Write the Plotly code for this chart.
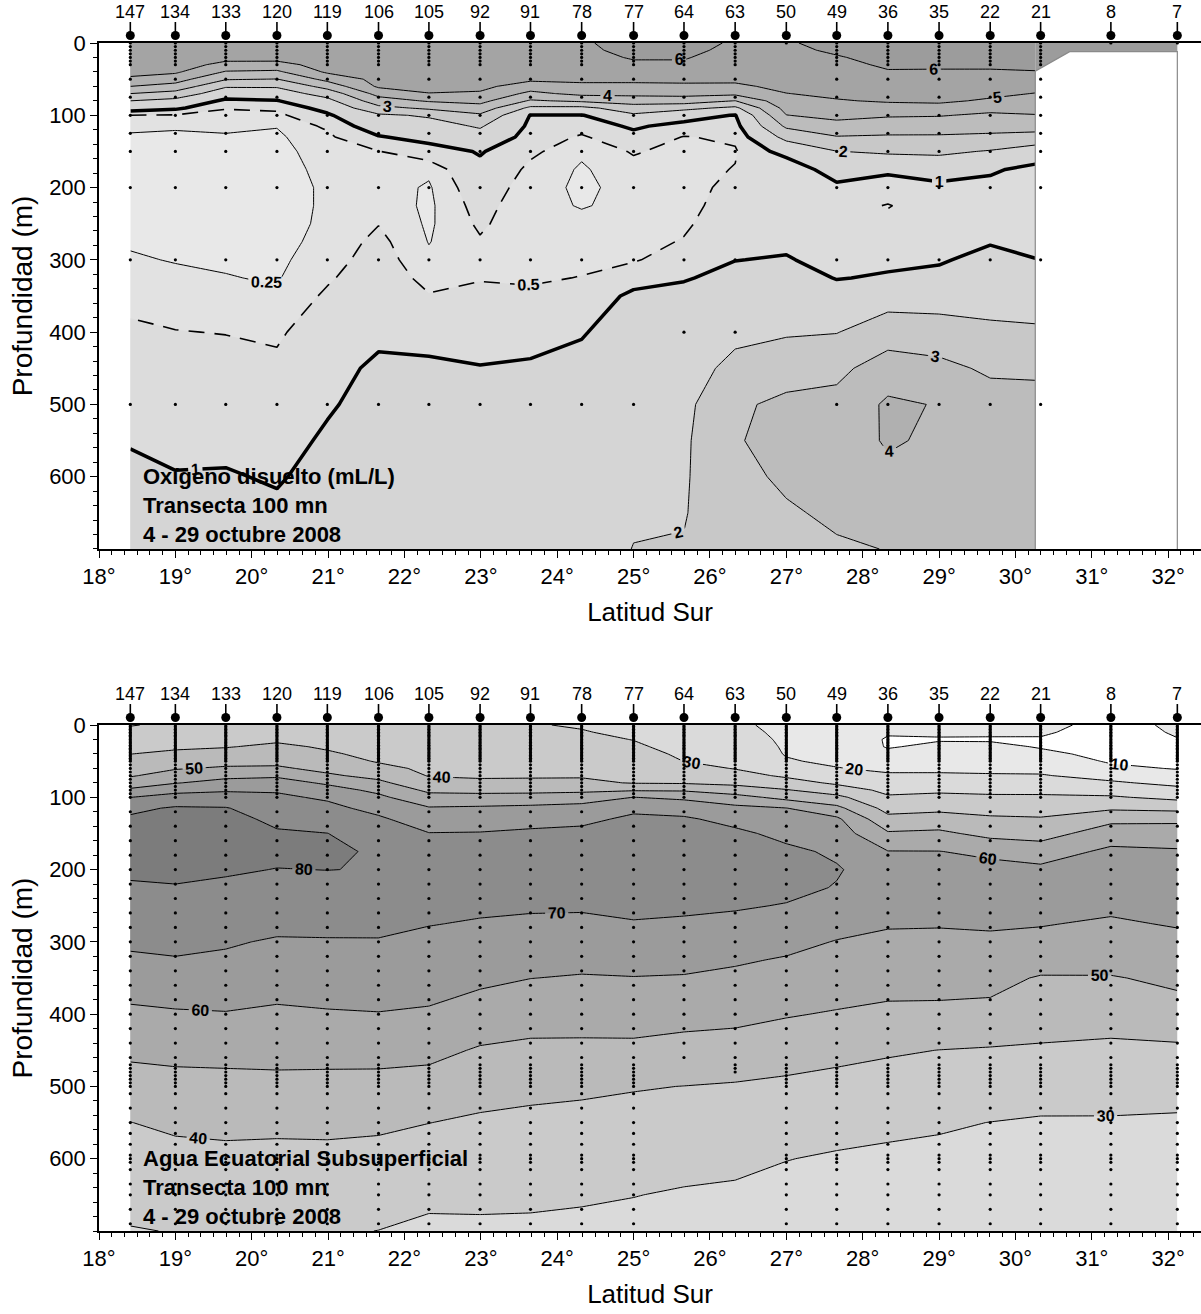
import numpy as np
import plotly.graph_objects as go

# ---------------- data ----------------
station_ids = ["147", "134", "133", "120", "119", "106", "105", "92", "91", "78", "77",
               "64", "63", "50", "49", "36", "35", "22", "21", "8", "7"]
station_lat = [18.41, 19.00, 19.66, 20.33, 20.99, 21.66, 22.32, 22.99, 23.65, 24.32, 25.00,
               25.66, 26.33, 27.00, 27.66, 28.33, 29.00, 29.67, 30.33, 31.25, 32.12]

depth_grid = [0, 10, 20, 30, 40, 50, 60, 70, 80, 90, 100, 115, 130, 150, 175, 200, 225, 250,
              275, 300, 325, 350, 400, 450, 500, 550, 600, 650, 700]

# ---- dissolved oxygen (mL/L), one profile per station, on depth_grid ----
oxy_grid_lat = [18.41, 19.00, 19.66, 20.33, 20.99, 21.66, 22.32, 22.99, 23.65, 24.32,
                25.00, 25.66, 26.33, 27.00, 27.66, 28.33, 29.00, 29.67, 30.26]
o2_147 = [5.9, 5.8, 5.7, 5.6, 5.4, 4.77, 4.0, 3.0, 2.0, 1.33, 0.49, 0.3, 0.22, 0.2, 0.19, 0.18, 0.19, 0.2, 0.23, 0.27, 0.34, 0.42, 0.55, 0.7, 0.82, 0.97, 1.1, 1.2, 1.3]
o2_134 = [5.9, 5.8, 5.7, 5.5, 5.15, 4.43, 3.64, 2.63, 1.71, 1.12, 0.46, 0.27, 0.22, 0.2, 0.18, 0.18, 0.18, 0.19, 0.21, 0.24, 0.29, 0.36, 0.51, 0.62, 0.74, 0.86, 1.03, 1.12, 1.2]
o2_133 = [5.9, 5.8, 5.35, 4.69, 3.92, 3.08, 2.1, 1.4, 0.86, 0.52, 0.4, 0.29, 0.23, 0.2, 0.18, 0.17, 0.17, 0.18, 0.2, 0.22, 0.26, 0.32, 0.49, 0.62, 0.74, 0.88, 1.04, 1.13, 1.2]
o2_120 = [5.9, 5.8, 5.4, 4.62, 3.83, 2.98, 2.1, 1.5, 0.96, 0.58, 0.4, 0.26, 0.21, 0.19, 0.18, 0.17, 0.17, 0.17, 0.18, 0.2, 0.23, 0.28, 0.45, 0.57, 0.68, 0.8, 0.95, 1.1, 1.2]
o2_119 = [5.95, 5.9, 5.7, 5.45, 5.15, 4.3, 3.36, 2.4, 1.71, 1.24, 0.89, 0.56, 0.42, 0.34, 0.3, 0.28, 0.28, 0.29, 0.32, 0.38, 0.46, 0.55, 0.7, 0.82, 0.94, 1.08, 1.18, 1.25, 1.3]
o2_106 = [5.95, 5.9, 5.8, 5.7, 5.5, 5.3, 5.15, 4.33, 3.57, 2.71, 1.85, 1.4, 0.95, 0.49, 0.4, 0.36, 0.4, 0.49, 0.58, 0.64, 0.7, 0.76, 0.88, 1.1, 1.2, 1.27, 1.32, 1.38, 1.4]
o2_105 = [5.95, 5.9, 5.8, 5.7, 5.55, 5.4, 5.2, 4.98, 4.1, 3.18, 2.11, 1.63, 1.24, 0.71, 0.3, 0.22, 0.2, 0.21, 0.24, 0.3, 0.4, 0.52, 0.8, 1.1, 1.25, 1.32, 1.38, 1.42, 1.45]
o2_92 = [5.95, 5.9, 5.8, 5.7, 5.55, 5.4, 5.25, 4.88, 4.3, 3.58, 2.85, 2.1, 1.63, 1.05, 0.85, 0.72, 0.62, 0.55, 0.47, 0.43, 0.48, 0.58, 0.8, 1.02, 1.15, 1.25, 1.32, 1.38, 1.42]
o2_91 = [5.95, 5.9, 5.8, 5.6, 5.4, 5.2, 4.5, 3.75, 2.89, 1.78, 0.97, 0.85, 0.73, 0.57, 0.42, 0.34, 0.3, 0.3, 0.33, 0.38, 0.46, 0.56, 0.78, 1.08, 1.2, 1.28, 1.35, 1.4, 1.45]
o2_78 = [5.9, 5.85, 5.8, 5.6, 5.4, 5.2, 4.79, 4.26, 3.17, 1.73, 0.96, 0.67, 0.45, 0.29, 0.22, 0.21, 0.24, 0.29, 0.35, 0.43, 0.51, 0.65, 0.95, 1.2, 1.32, 1.4, 1.46, 1.52, 1.58]
o2_77 = [6.3, 6.2, 6.05, 5.9, 5.6, 5.2, 4.79, 4.26, 3.44, 2.54, 1.85, 1.1, 0.81, 0.53, 0.4, 0.32, 0.29, 0.3, 0.36, 0.46, 0.78, 1.12, 1.35, 1.5, 1.6, 1.7, 1.8, 1.9, 2.02]
o2_64 = [6.3, 6.2, 6.05, 5.9, 5.6, 5.25, 4.8, 4.3, 3.5, 2.25, 1.33, 0.77, 0.48, 0.4, 0.36, 0.35, 0.37, 0.43, 0.53, 0.72, 0.96, 1.15, 1.4, 1.6, 1.75, 1.85, 1.9, 1.95, 2.05]
o2_63 = [5.9, 5.8, 5.7, 5.6, 5.4, 5.2, 4.82, 4.24, 2.98, 1.78, 0.96, 0.76, 0.57, 0.46, 0.52, 0.62, 0.7, 0.8, 0.9, 0.99, 1.15, 1.3, 1.78, 2.25, 2.85, 2.92, 2.75, 2.6, 2.5]
o2_50 = [5.9, 5.85, 5.8, 5.7, 5.6, 5.45, 5.25, 4.98, 4.67, 4.33, 3.98, 3.17, 2.29, 1.25, 0.53, 0.56, 0.65, 0.77, 0.9, 1.04, 1.2, 1.4, 1.9, 2.6, 3.2, 3.35, 3.15, 2.9, 2.7]
o2_49 = [6.3, 6.1, 5.95, 5.85, 5.7, 5.55, 5.4, 5.2, 4.93, 4.6, 4.27, 3.67, 2.95, 1.98, 1.37, 0.85, 0.65, 0.62, 0.7, 0.82, 0.98, 1.2, 1.97, 2.75, 3.3, 3.5, 3.4, 3.15, 2.9]
o2_36 = [6.4, 6.3, 6.2, 6.08, 5.96, 5.75, 5.55, 5.3, 5.1, 4.63, 4.1, 3.48, 2.89, 2.15, 1.12, 0.7, 0.48, 0.6, 0.75, 0.9, 1.05, 1.6, 2.5, 3.5, 4.15, 4.1, 3.8, 3.4, 3.02]
o2_35 = [6.4, 6.3, 6.2, 6.08, 5.95, 5.75, 5.55, 5.35, 5.15, 4.69, 4.06, 3.44, 2.89, 2.19, 1.32, 0.85, 0.7, 0.72, 0.8, 0.94, 1.15, 1.55, 2.45, 3.25, 3.95, 3.85, 3.65, 3.5, 3.35]
o2_22 = [6.4, 6.3, 6.2, 6.08, 5.95, 5.7, 5.45, 5.2, 4.88, 4.29, 3.84, 3.35, 2.82, 1.93, 1.1, 0.8, 0.72, 0.8, 0.96, 1.18, 1.35, 1.6, 2.2, 2.85, 3.4, 3.6, 3.6, 3.5, 3.4]
o2_21 = [6.4, 6.3, 6.2, 6.1, 5.98, 5.63, 5.3, 4.97, 4.63, 4.3, 3.96, 3.38, 2.67, 1.47, 0.8, 0.62, 0.52, 0.6, 0.8, 1.02, 1.25, 1.5, 2.15, 2.8, 3.4, 3.6, 3.6, 3.5, 3.4]
oxygen_columns = [o2_147, o2_134, o2_133, o2_120, o2_119, o2_106, o2_105, o2_92, o2_91, o2_78,
                  o2_77, o2_64, o2_63, o2_50, o2_49, o2_36, o2_35, o2_22, o2_21]

oxy_levels = [0.25, 0.5, 1, 2, 3, 4, 5, 6]
oxy_colors = ["#e8e8e8", "#e2e2e2", "#dcdcdc", "#d5d5d5", "#c8c8c8", "#bcbcbc", "#b0b0b0", "#a4a4a4", "#9c9c9c"]

# extent of gridded oxygen field beyond the last full profile (only surface data)
blank_lat = [30.26, 30.71, 32.12]
blank_top = [39, 12, 12]

# oxygen bottle depths
oxy_sample_std = [0, 5, 10, 15, 20, 25, 30, 50, 75, 100, 125, 150, 200, 300, 500]
oxy_sample_400 = [0, 5, 10, 15, 20, 25, 30, 50, 75, 100, 125, 150, 200, 300, 400]
oxy_400_stations = ["64", "63"]
oxy_surface_only = ["50", "8", "7"]

# ---- Equatorial Subsurface Water (%), one profile per station, on depth_grid ----
aes_147 = [29.6, 32.1, 34.7, 37.4, 39.9, 43.0, 46.1, 49.1, 54.7, 61.7, 69.9, 77.9, 81.4, 82.8, 83.0, 81.5, 79.0, 76.6, 74.0, 71.5, 68.6, 65.0, 58.1, 51.9, 46.0, 39.9, 36.5, 33.1, 29.5]
aes_134 = [31.5, 33.5, 35.5, 38.5, 41.9, 45.6, 49.3, 54.2, 59.5, 66.9, 73.8, 81.0, 83.0, 84.0, 84.0, 82.0, 79.5, 77.0, 74.5, 72.0, 69.5, 66.0, 59.0, 52.5, 47.0, 41.5, 37.5, 33.5, 30.3]
aes_133 = [32.0, 34.0, 36.5, 39.5, 43.3, 47.0, 51.2, 57.5, 63.3, 68.9, 74.0, 80.5, 83.0, 84.5, 84.5, 81.0, 78.5, 76.0, 73.5, 71.0, 68.5, 66.0, 59.5, 52.5, 47.5, 42.0, 38.0, 34.0, 30.5]
aes_120 = [33.0, 35.5, 38.5, 41.8, 44.7, 47.6, 51.4, 58.6, 64.0, 69.0, 71.7, 74.8, 77.9, 81.0, 82.0, 79.8, 77.5, 75.3, 72.5, 69.0, 66.5, 64.0, 58.5, 53.0, 47.5, 42.0, 37.5, 34.0, 31.0]
aes_119 = [32.5, 34.5, 36.8, 38.9, 41.2, 44.4, 47.5, 51.4, 58.6, 63.8, 68.6, 72.6, 75.7, 80.1, 81.5, 80.1, 77.5, 75.0, 72.0, 69.4, 66.8, 64.2, 59.3, 53.0, 47.3, 42.0, 37.8, 34.0, 31.0]
aes_106 = [31.0, 32.7, 34.3, 35.9, 37.5, 39.2, 42.7, 47.3, 52.2, 57.8, 62.0, 67.0, 71.5, 75.5, 79.0, 79.7, 78.8, 76.0, 72.5, 69.3, 66.7, 64.4, 59.7, 53.2, 47.0, 41.5, 37.3, 34.0, 29.9]
aes_105 = [31.5, 32.5, 33.5, 34.6, 35.8, 36.9, 38.1, 39.5, 43.0, 48.0, 53.3, 60.8, 64.7, 70.3, 72.5, 74.0, 74.3, 73.0, 70.3, 68.0, 66.0, 63.5, 59.0, 52.5, 46.3, 40.1, 35.8, 31.6, 28.5]
aes_92 = [31.5, 32.5, 33.5, 34.5, 35.5, 36.6, 37.7, 38.9, 41.7, 47.2, 53.3, 61.4, 65.4, 70.5, 72.5, 73.5, 73.0, 71.5, 69.3, 66.7, 64.3, 61.8, 56.0, 49.1, 43.4, 38.7, 35.3, 31.8, 28.5]
aes_91 = [30.5, 31.5, 32.7, 34.0, 35.3, 36.6, 37.9, 39.1, 41.7, 47.2, 53.9, 62.2, 66.9, 71.5, 73.0, 73.5, 73.0, 71.2, 68.4, 65.6, 62.9, 60.1, 54.0, 48.0, 42.2, 38.0, 34.8, 31.5, 28.5]
aes_78 = [29.3, 30.5, 32.0, 33.5, 35.0, 36.4, 37.8, 39.2, 41.8, 47.6, 55.5, 63.2, 68.1, 72.0, 73.5, 74.0, 73.5, 71.3, 67.8, 65.0, 62.2, 59.4, 53.6, 48.1, 41.5, 37.5, 34.2, 31.0, 28.0]
aes_77 = [27.0, 28.3, 29.8, 31.3, 33.0, 34.5, 36.0, 37.5, 39.5, 49.0, 60.1, 68.3, 71.5, 74.0, 75.5, 76.0, 75.0, 72.5, 69.3, 66.3, 63.3, 59.7, 54.0, 48.0, 40.5, 37.2, 33.8, 30.2, 27.5]
aes_64 = [23.0, 24.5, 26.0, 27.2, 28.6, 29.9, 33.0, 36.0, 39.1, 48.8, 58.2, 65.9, 71.3, 74.5, 76.5, 77.0, 76.0, 72.0, 68.5, 65.7, 62.5, 59.4, 53.2, 46.7, 39.9, 36.5, 32.8, 29.2, 26.5]
aes_63 = [22.0, 23.5, 25.0, 26.4, 27.5, 28.5, 29.6, 33.5, 37.8, 44.5, 53.6, 62.4, 67.0, 72.0, 74.5, 75.2, 74.5, 71.0, 67.5, 64.0, 61.0, 58.2, 52.5, 46.0, 39.2, 35.5, 32.2, 28.5, 26.0]
aes_50 = [17.0, 17.5, 18.2, 18.8, 19.4, 20.8, 24.6, 28.5, 34.0, 40.6, 46.9, 60.2, 63.4, 67.4, 72.0, 73.0, 72.5, 69.5, 66.5, 62.5, 59.3, 57.3, 50.7, 44.0, 38.3, 35.2, 30.2, 27.4, 25.0]
aes_49 = [13.0, 13.8, 14.6, 15.4, 16.5, 18.3, 20.4, 24.4, 28.4, 35.0, 42.5, 52.5, 61.8, 65.0, 68.5, 70.8, 69.5, 66.5, 63.0, 59.6, 57.5, 55.5, 49.2, 42.3, 37.4, 33.1, 29.1, 26.8, 24.5]
aes_36 = [11.5, 10.6, 9.4, 9.5, 11.6, 14.8, 18.1, 21.3, 24.5, 27.7, 31.1, 36.7, 42.6, 51.1, 60.3, 65.0, 67.5, 66.0, 60.8, 58.1, 55.6, 53.4, 48.1, 41.0, 36.2, 31.7, 28.6, 26.5, 24.0]
aes_35 = [12.5, 11.0, 9.5, 11.4, 13.7, 16.0, 18.4, 21.1, 24.8, 28.5, 32.2, 37.8, 43.9, 52.0, 60.2, 64.5, 66.5, 65.0, 60.6, 58.0, 55.7, 53.6, 47.8, 39.9, 35.5, 31.0, 28.0, 26.0, 24.0]
aes_22 = [12.5, 11.0, 9.4, 11.4, 13.6, 15.9, 18.2, 20.7, 24.3, 27.9, 31.4, 36.6, 41.4, 47.1, 57.9, 63.0, 65.0, 64.0, 61.0, 58.5, 56.0, 53.5, 47.0, 39.3, 35.3, 29.9, 27.5, 25.5, 23.5]
aes_21 = [12.5, 10.8, 9.5, 9.6, 11.2, 14.4, 17.5, 20.7, 24.3, 27.9, 31.3, 36.1, 40.8, 46.0, 55.3, 62.0, 64.0, 63.0, 60.4, 58.0, 55.4, 49.0, 44.0, 39.0, 34.5, 29.0, 27.0, 25.5, 23.5]
aes_8 = [7.0, 7.3, 7.6, 8.0, 8.5, 9.2, 11.5, 16.5, 21.4, 26.2, 31.0, 38.5, 47.5, 55.0, 62.0, 64.5, 64.0, 61.5, 59.0, 57.2, 54.5, 49.2, 44.0, 38.0, 33.5, 29.2, 27.0, 25.5, 23.5]
aes_7 = [11.5, 10.6, 9.8, 9.3, 9.1, 9.3, 9.6, 12.6, 17.4, 22.9, 27.6, 37.1, 47.9, 54.6, 61.0, 64.0, 64.5, 63.0, 60.6, 58.0, 55.5, 52.5, 45.3, 38.5, 33.2, 28.8, 26.8, 25.0, 23.0]
aes_columns = [aes_147, aes_134, aes_133, aes_120, aes_119, aes_106, aes_105, aes_92, aes_91, aes_78,
               aes_77, aes_64, aes_63, aes_50, aes_49, aes_36, aes_35, aes_22, aes_21, aes_8, aes_7]

aes_level_start, aes_level_end, aes_level_step = 10, 80, 10
aes_colors = ["#ffffff", "#e8e8e8", "#dadada", "#cacaca", "#bababa", "#aaaaaa", "#9b9b9b", "#8c8c8c", "#7c7c7c"]

# CTD sampling depths
ctd_depths = [0, 2, 4, 6, 8, 10, 12, 14, 16, 18, 20, 22, 24, 26, 28, 30, 32, 34, 36, 38, 40, 42, 44, 46, 48, 50,
              55, 60, 65, 70, 75, 80, 85, 90, 95, 100, 120, 140, 160, 180, 200, 220, 240, 260, 280, 300,
              320, 340, 360, 380, 400, 420, 440, 460, 470, 475, 480, 485, 490, 495, 500, 510, 530, 550,
              565, 580, 595, 600, 605, 615, 635, 650, 670, 690]
ctd_max_depth = {"64": 460, "63": 480}

FONT = "Liberation Sans, Arial, sans-serif"

# ---------------- figure ----------------
fig = go.Figure()
z_oxy = np.array(oxygen_columns).T
z_aes = np.array(aes_columns).T

nolines = dict(width=0, color="rgba(0,0,0,0)", smoothing=0)

def panel(xa, ya):
    return dict(xaxis=xa, yaxis=ya)

# --- oxygen filled bands (stacked constraints: each shades values above its level) ---
fig.add_trace(go.Contour(x=oxy_grid_lat, y=depth_grid, z=z_oxy, showscale=False, hoverinfo="skip",
                         contours=dict(type="constraint", operation="<", value=-1),
                         fillcolor=oxy_colors[0], line=nolines, **panel("x", "y")))
for lev, col in zip(oxy_levels, oxy_colors[1:]):
    fig.add_trace(go.Contour(x=oxy_grid_lat, y=depth_grid, z=z_oxy, showscale=False, hoverinfo="skip",
                             contours=dict(type="constraint", operation="<", value=lev),
                             fillcolor=col, line=nolines, **panel("x", "y")))

labfont = dict(family=FONT, size=16, color="black", weight="bold")

def oxy_lines(start, end, width, dash):
    return go.Contour(x=oxy_grid_lat, y=depth_grid, z=z_oxy, showscale=False, hoverinfo="skip",
                      autocontour=False,
                      contours=dict(start=start, end=end, size=1, coloring="none",
                                    showlabels=True, labelfont=labfont),
                      line=dict(color="black", width=width, dash=dash, smoothing=0), **panel("x", "y"))

fig.add_trace(oxy_lines(2, 6, 1, "solid"))
fig.add_trace(oxy_lines(0.25, 0.25, 1, "solid"))
fig.add_trace(oxy_lines(0.5, 0.5, 1.6, "16px,10px"))
fig.add_trace(oxy_lines(1, 1, 3.5, "solid"))

# surface-only extension of the oxygen field and data-limit lines
strip_x = [blank_lat[0]] + blank_lat + [blank_lat[-1]]
strip_y = [0] + blank_top + [0]
fig.add_trace(go.Scatter(x=strip_x, y=strip_y, fill="toself", fillcolor=oxy_colors[-1], mode="lines",
                         line=dict(width=0), hoverinfo="skip", showlegend=False, **panel("x", "y")))
edge_x = [blank_lat[0]] + blank_lat + [blank_lat[-1]]
edge_y = [700] + blank_top + [700]
fig.add_trace(go.Scatter(x=edge_x, y=edge_y, mode="lines", line=dict(color="#8a8a8a", width=1.2),
                         hoverinfo="skip", showlegend=False, **panel("x", "y")))

# --- AES filled contours ---
ncol = len(aes_colors)
aes_scale = [[i / (ncol - 1), c] for i, c in enumerate(aes_colors)]
fig.add_trace(go.Contour(x=station_lat, y=depth_grid, z=z_aes, showscale=False, hoverinfo="skip",
                         autocontour=False, colorscale=aes_scale,
                         contours=dict(start=aes_level_start, end=aes_level_end, size=aes_level_step,
                                       coloring="fill", showlabels=True, labelfont=labfont),
                         line=dict(color="black", width=1, smoothing=0), **panel("x2", "y2")))

# --- sample dots ---
ox_x, ox_y = [], []
for sid, lat in zip(station_ids, station_lat):
    if sid in oxy_surface_only:
        ds = [0]
    elif sid in oxy_400_stations:
        ds = oxy_sample_400
    else:
        ds = oxy_sample_std
    ox_x += [lat] * len(ds)
    ox_y += ds
fig.add_trace(go.Scatter(x=ox_x, y=ox_y, mode="markers", marker=dict(size=3.2, color="black"),
                         hoverinfo="skip", showlegend=False, cliponaxis=False, **panel("x", "y")))

ct_x, ct_y = [], []
for sid, lat in zip(station_ids, station_lat):
    mx = ctd_max_depth.get(sid, 700)
    ds = [d for d in ctd_depths if d <= mx]
    ct_x += [lat] * len(ds)
    ct_y += ds
fig.add_trace(go.Scatter(x=ct_x, y=ct_y, mode="markers", marker=dict(size=3.2, color="black"),
                         hoverinfo="skip", showlegend=False, cliponaxis=False, **panel("x2", "y2")))

# --- station markers above each panel (pin + label) ---
shapes, annots = [], []
for xr, ytop in (("x", 1.0), ("x2", 0.4259)):
    for sid, lat in zip(station_ids, station_lat):
        shapes.append(dict(type="circle", xref=xr, yref="paper", xsizemode="pixel", ysizemode="pixel",
                           xanchor=lat, yanchor=ytop, x0=-4.5, x1=4.5, y0=3, y1=12,
                           fillcolor="black", line=dict(width=0)))
        shapes.append(dict(type="line", xref=xr, yref="paper", xsizemode="pixel", ysizemode="pixel",
                           xanchor=lat, yanchor=ytop, x0=0, x1=0, y0=11, y1=21,
                           line=dict(color="black", width=1.6)))
        annots.append(dict(x=lat, y=ytop, xref=xr, yref="paper", text=sid, showarrow=False,
                           xanchor="center", yanchor="bottom", yshift=19,
                           font=dict(family=FONT, size=18, color="black")))

# --- panel titles ---
title_lines_top = ["Oxígeno disuelto (mL/L)", "Transecta 100 mn", "4 - 29 octubre 2008"]
title_lines_bot = ["Agua Ecuatorial Subsuperficial", "Transecta 100 mn", "4 - 29 octubre 2008"]
title_depths = [600, 640, 680]
for lines, xr, yr in ((title_lines_top, "x", "y"), (title_lines_bot, "x2", "y2")):
    for txt, d in zip(lines, title_depths):
        annots.append(dict(x=18.55, y=d, xref=xr, yref=yr, text=txt, showarrow=False,
                           xanchor="left", yanchor="middle",
                           font=dict(family=FONT, size=22, color="black", weight="bold")))

# --- axes ---
xticks = list(range(18, 33))
def xaxis_def(anchor):
    return dict(anchor=anchor, domain=[0, 1], range=[18, 32.43], tickvals=xticks,
                ticktext=[f"{t}°" for t in xticks], showgrid=False, zeroline=False,
                showline=True, linecolor="black", linewidth=2, mirror=True,
                ticks="outside", ticklen=7, tickwidth=1.4, tickcolor="black",
                minor=dict(dtick=1 / 6, tick0=18, ticks="outside", ticklen=4, tickwidth=1, tickcolor="black"),
                tickfont=dict(family=FONT, size=22, color="black"),
                title=dict(text="Latitud Sur", font=dict(family=FONT, size=26, color="black"), standoff=14))

def yaxis_def(anchor, domain):
    return dict(anchor=anchor, domain=domain, range=[700, 0], tickvals=[0, 100, 200, 300, 400, 500, 600],
                showgrid=False, zeroline=False, showline=True, linecolor="black", linewidth=1.5,
                ticks="outside", ticklen=7, tickwidth=1.4, tickcolor="black",
                minor=dict(dtick=20, tick0=0, ticks="outside", ticklen=4, tickwidth=1, tickcolor="black"),
                tickfont=dict(family=FONT, size=22, color="black"),
                title=dict(text="Profundidad (m)", font=dict(family=FONT, size=28, color="black"), standoff=8))

fig.update_layout(
    width=1201, height=1314,
    margin=dict(l=99, r=0, t=43, b=83),
    paper_bgcolor="white", plot_bgcolor="white",
    showlegend=False,
    xaxis=xaxis_def("y"), yaxis=yaxis_def("x", [0.5741, 1.0]),
    xaxis2=xaxis_def("y2"), yaxis2=yaxis_def("x2", [0.0, 0.4259]),
    annotations=annots, shapes=shapes,
)

fig.write_html("out.html")
